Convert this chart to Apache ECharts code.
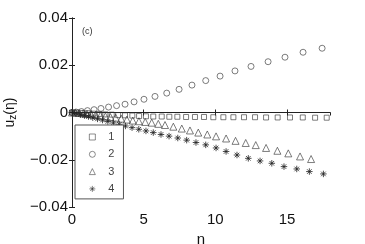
<!DOCTYPE html>
<html><head><meta charset="utf-8">
<script src="https://cdn.jsdelivr.net/npm/echarts@6/dist/echarts.min.js"></script>
<style>html,body{margin:0;padding:0;background:#fff}#c{width:365px;height:244px}</style>
</head><body><div id="c"></div>
<script>
const seriesNames = ['1', '2', '3', '4'];
const xTicks = [0, 5, 10, 15];
const yTicks = [-0.04, -0.02, 0, 0.02, 0.04];

const etaSq = [0, 0.35, 0.71, 1.10, 1.49, 1.91, 2.33, 2.77, 3.22, 3.70, 4.21, 4.68, 5.16, 5.67, 6.26, 6.79, 7.35, 7.96, 8.58, 9.21, 9.86, 10.56, 11.26, 12.00, 12.77, 13.54, 14.35, 15.21, 16.10, 16.96, 17.77];
const uzSq = [0, -0.0001, -0.0002, -0.0003, -0.0005, -0.0006, -0.0008, -0.0009, -0.0011, -0.0012, -0.0013, -0.0015, -0.0016, -0.0017, -0.0017, -0.0018, -0.0018, -0.0019, -0.0019, -0.0019, -0.0020, -0.0020, -0.0020, -0.0020, -0.0020, -0.0021, -0.0021, -0.0021, -0.0021, -0.0022, -0.0022];

const etaCirc = [0, 0.28, 0.66, 1.08, 1.54, 2.02, 2.55, 3.11, 3.70, 4.33, 5.02, 5.79, 6.61, 7.47, 8.37, 9.33, 10.33, 11.37, 12.49, 13.68, 14.86, 16.12, 17.45];
const uzCirc = [0, 0.0002, 0.0004, 0.0008, 0.0012, 0.0017, 0.0023, 0.0029, 0.0035, 0.0045, 0.0056, 0.0068, 0.0082, 0.0098, 0.0116, 0.0135, 0.0154, 0.0176, 0.0195, 0.0215, 0.0234, 0.0255, 0.0272];

const etaTri = [0, 0.24, 0.49, 0.77, 1.05, 1.34, 1.66, 1.98, 2.33, 2.68, 3.05, 3.43, 3.83, 4.24, 4.67, 5.11, 5.56, 6.02, 6.49, 7.07, 7.66, 8.23, 8.81, 9.44, 10.05, 10.75, 11.41, 12.12, 12.82, 13.54, 14.33, 15.09, 15.91, 16.68];
const uzTri = [0, -0.0001, -0.0002, -0.0004, -0.0006, -0.0008, -0.0010, -0.0013, -0.0016, -0.0019, -0.0022, -0.0026, -0.0030, -0.0034, -0.0037, -0.0040, -0.0043, -0.0048, -0.0053, -0.0060, -0.0068, -0.0076, -0.0085, -0.0093, -0.0101, -0.0110, -0.0120, -0.0129, -0.0138, -0.0150, -0.0162, -0.0173, -0.0186, -0.0197];

const etaStar = [0, 0.28, 0.59, 0.87, 1.15, 1.45, 1.78, 2.13, 2.50, 2.89, 3.30, 3.73, 4.19, 4.66, 5.16, 5.67, 6.21, 6.77, 7.38, 8.00, 8.65, 9.33, 10.05, 10.75, 11.51, 12.30, 13.12, 13.94, 14.79, 15.68, 16.56, 17.54];
const uzStar = [0, -0.0004, -0.0009, -0.0013, -0.0017, -0.0022, -0.0027, -0.0032, -0.0038, -0.0044, -0.0050, -0.0057, -0.0064, -0.0071, -0.0078, -0.0085, -0.0093, -0.0100, -0.0108, -0.0117, -0.0127, -0.0137, -0.0150, -0.0165, -0.0180, -0.0194, -0.0205, -0.0215, -0.0229, -0.0239, -0.0250, -0.0260];

const pair = (xs, ys) => xs.map((x, i) => [x, ys[i]]);
const FONT = "'Liberation Sans', Arial, sans-serif";
const INK = '#333';
const starPath = 'path://M0,-10L0,10M-10,0L10,0M-7,-7L7,7M-7,7L7,-7';

const chart = echarts.init(document.getElementById('c'), null, {renderer: 'canvas'});
const fmtY = v => {
  if (Math.abs(v) < 1e-9) return '0';
  return (v < 0 ? '\u2212' : '') + Math.abs(v).toFixed(2);
};
const axisLineStyle = {show: true, lineStyle: {color: '#222', width: 1}};
const mkSeries = (name, symbol, size, data) => ({
  name, type: 'scatter', symbol, symbolSize: size, data,
  itemStyle: {color: 'rgba(0,0,0,0)', borderColor: INK, borderWidth: 0.8},
  emphasis: {disabled: true}, z: 3
});
const starSeries = mkSeries('4', starPath, 6.5, pair(etaStar, uzStar));
starSeries.itemStyle = {color: 'rgba(0,0,0,0)', borderColor: '#222', borderWidth: 1};

chart.setOption({
  animation: false,
  textStyle: {fontFamily: FONT},
  title: {text: '(c)', left: 77, top: 22, textStyle: {fontSize: 9, fontWeight: 'normal', color: '#333', fontFamily: FONT}},
  grid: {left: 72, right: 35, top: 18, bottom: 37, containLabel: false, outerBoundsMode: 'none'},
  legend: {
    data: seriesNames, orient: 'vertical', left: 75, top: 125,
    padding: [6, 9, 4, 14], itemWidth: 6, itemHeight: 6, itemGap: 5.3,
    borderColor: '#555', borderWidth: 1, backgroundColor: '#fff',
    itemStyle: {borderWidth: 0.7},
    textStyle: {fontSize: 11, color: '#444', fontFamily: FONT, lineHeight: 12, padding: [0, 0, 0, 8]},
    selectedMode: false
  },
  xAxis: [{
    type: 'value', min: 0, max: 18, interval: 5, position: 'bottom',
    name: '\u03b7', nameLocation: 'middle', nameGap: 20,
    nameTextStyle: {fontSize: 15, color: '#111', fontFamily: FONT},
    axisLine: axisLineStyle,
    axisTick: {show: true, inside: true, length: 3, lineStyle: {color: '#222'}},
    axisLabel: {fontSize: 15, color: '#111', margin: 5, showMaxLabel: false, fontFamily: FONT,
      formatter: v => xTicks.includes(v) ? String(v) : ''},
    splitLine: {show: false}
  }, {
    type: 'value', min: 0, max: 18, interval: 5, position: 'top',
    axisLine: axisLineStyle,
    axisTick: {show: true, inside: true, length: 3, lineStyle: {color: '#222'}},
    axisLabel: {show: false}, splitLine: {show: false}
  }],
  yAxis: [{
    type: 'value', min: -0.04, max: 0.04, interval: 0.02, position: 'left',
    name: 'u{s|z}(\u03b7)', nameLocation: 'middle', nameGap: 54, nameRotate: 90,
    nameTextStyle: {fontSize: 14, color: '#111', fontFamily: FONT,
      rich: {s: {fontSize: 10, verticalAlign: 'bottom', padding: [6, 0, 0, 0], fontFamily: FONT, color: '#111'}}},
    axisLine: axisLineStyle,
    axisTick: {show: true, inside: true, length: 3, lineStyle: {color: '#222'}},
    axisLabel: {fontSize: 15, color: '#111', margin: 4, fontFamily: FONT,
      formatter: v => yTicks.some(t => Math.abs(t - v) < 1e-9) ? fmtY(v) : ''},
    splitLine: {show: false}
  }, {
    type: 'value', min: -0.04, max: 0.04, interval: 0.02, position: 'right',
    axisLine: axisLineStyle,
    axisTick: {show: true, inside: true, length: 3, lineStyle: {color: '#222'}},
    axisLabel: {show: false}, splitLine: {show: false}
  }],
  series: [
    mkSeries('1', 'rect', 5, pair(etaSq, uzSq)),
    mkSeries('2', 'circle', 6, pair(etaCirc, uzCirc)),
    mkSeries('3', 'triangle', 7, pair(etaTri, uzTri)),
    starSeries
  ]
});
</script></body></html>
